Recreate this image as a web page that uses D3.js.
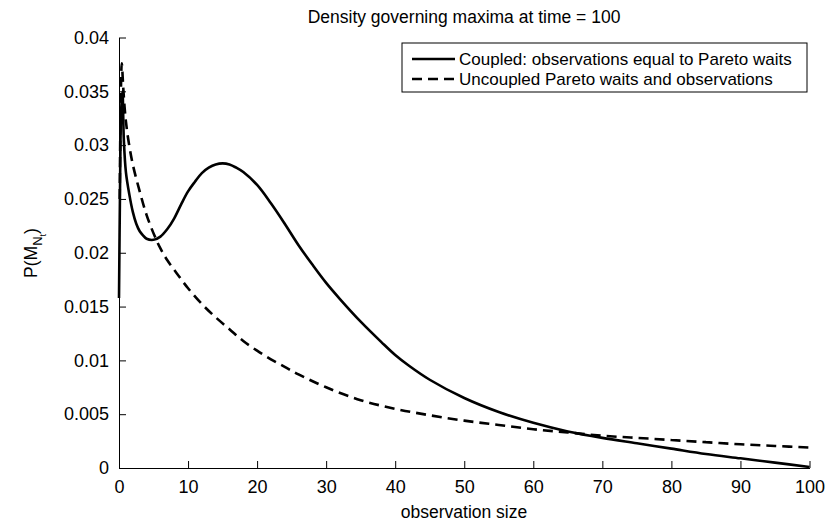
<!DOCTYPE html>
<html><head><meta charset="utf-8">
<script src="https://cdn.jsdelivr.net/npm/d3@7"></script>
<style>body{margin:0;background:#fff}svg{display:block}text{font-family:"Liberation Sans",Arial,Helvetica,sans-serif;fill:#000}</style>
</head><body><svg id="c" width="826" height="526"></svg>
<script>
const coupledX = [0,0.15,0.3,0.5,0.7,1.0,1.5,2,2.5,3,3.5,4,5,6,7,8,9,10,11,12,13,14,15,16,17,18,20,22,24,26,28,30,32,35,38,40,42,45,50,55,60,65,70,75,80,85,90,95,100];
const coupledY = [0.0158,0.026,0.033,0.035,0.0305,0.0275,0.0254,0.0238,0.0227,0.0220,0.0216,0.0213,0.0212,0.0215,0.0222,0.0232,0.0245,0.0257,0.0266,0.0274,0.0279,0.0282,0.0283,0.0282,0.0279,0.0275,0.0263,0.0246,0.0227,0.0207,0.0189,0.0172,0.0157,0.0136,0.0117,0.0105,0.0095,0.0082,0.0065,0.0052,0.0042,0.0034,0.0028,0.0023,0.0018,0.0013,0.0009,0.0005,0.0001];
const uncoupledX = [0.1,0.25,0.4,0.6,0.8,1.0,1.35,2,3,4,5.2,6,7,8.35,10,12.2,14,16,18,20,22,24,26,30,35,40,45,50,55,60,65,70,75,80,85,90,95,100];
const uncoupledY = [0.025,0.034,0.0376,0.0355,0.0336,0.0322,0.0305,0.0282,0.0257,0.0235,0.0215,0.0204,0.0193,0.0181,0.0167,0.0151,0.0140,0.0129,0.0118,0.0109,0.0101,0.0094,0.0087,0.0075,0.0063,0.0055,0.0049,0.0044,0.0040,0.0036,0.0033,0.0030,0.0028,0.0026,0.0024,0.0022,0.00205,0.0019];
const xTicks = [0,10,20,30,40,50,60,70,80,90,100];
const yTicks = [0,0.005,0.01,0.015,0.02,0.025,0.03,0.035,0.04];
const seriesNames = ["Coupled: observations equal to Pareto waits","Uncoupled Pareto waits and observations"];
const titleText = "Density governing maxima at time = 100";
const xLabel = "observation size";

const svg = d3.select("#c");
const x = d3.scaleLinear().domain([0,100]).range([119,809.5]);
const y = d3.scaleLinear().domain([0,0.04]).range([468,37.5]);
const fs = 18;

// axes
const xa = svg.append("g").attr("transform","translate(0,468)")
  .call(d3.axisBottom(x).tickValues(xTicks).tickSizeInner(-7).tickSizeOuter(0).tickPadding(11).tickFormat(d3.format("d")));
const ya = svg.append("g").attr("transform","translate(119,0)")
  .call(d3.axisLeft(y).tickValues(yTicks).tickSizeInner(-7).tickSizeOuter(0).tickPadding(10).tickFormat(d=>d===0?"0":String(+d.toFixed(3))));
[xa,ya].forEach(a=>{a.selectAll("text").attr("font-size",fs).attr("font-family","Liberation Sans, Arial, sans-serif");
  a.selectAll("line,path").attr("stroke","#000").attr("stroke-width",1);});
xa.selectAll("text").attr("dy","0.8em");

const line = d3.line().x(d=>x(d[0])).y(d=>y(d[1])).curve(d3.curveCatmullRom.alpha(0.5));
const cData = coupledX.map((v,i)=>[v,coupledY[i]]);
const uData = uncoupledX.map((v,i)=>[v,uncoupledY[i]]);
svg.append("path").attr("d",line(uData)).attr("fill","none").attr("stroke","#000").attr("stroke-width",2.6).attr("stroke-dasharray","10,6");
svg.append("path").attr("d",line(cData)).attr("fill","none").attr("stroke","#000").attr("stroke-width",2.6);

// title & labels
svg.append("text").attr("x",464).attr("y",23).attr("text-anchor","middle").attr("font-size",17.5).text(titleText);
svg.append("text").attr("x",464).attr("y",518).attr("text-anchor","middle").attr("font-size",17.5).text(xLabel);
const yl = svg.append("text").attr("transform","translate(37,253) rotate(-90)").attr("text-anchor","middle").attr("font-size",17.5);
yl.append("tspan").text("P(M");
yl.append("tspan").attr("font-size",13).attr("dy",5).text("N");
yl.append("tspan").attr("font-size",9).attr("dy",4).text("t");
yl.append("tspan").attr("dy",-9).text(")");

// legend
const lg = svg.append("g");
lg.append("rect").attr("x",402).attr("y",43).attr("width",405).attr("height",49).attr("fill","#fff").attr("stroke","#000").attr("stroke-width",1);
[0,1].forEach(i=>{
  const yy = 59+i*20;
  lg.append("line").attr("x1",412).attr("x2",455).attr("y1",yy).attr("y2",yy).attr("stroke","#000").attr("stroke-width",2.6).attr("stroke-dasharray",i?"10,6":null);
  lg.append("text").attr("x",459).attr("y",yy+6).attr("font-size",17).text(seriesNames[i]);
});
</script></body></html>
